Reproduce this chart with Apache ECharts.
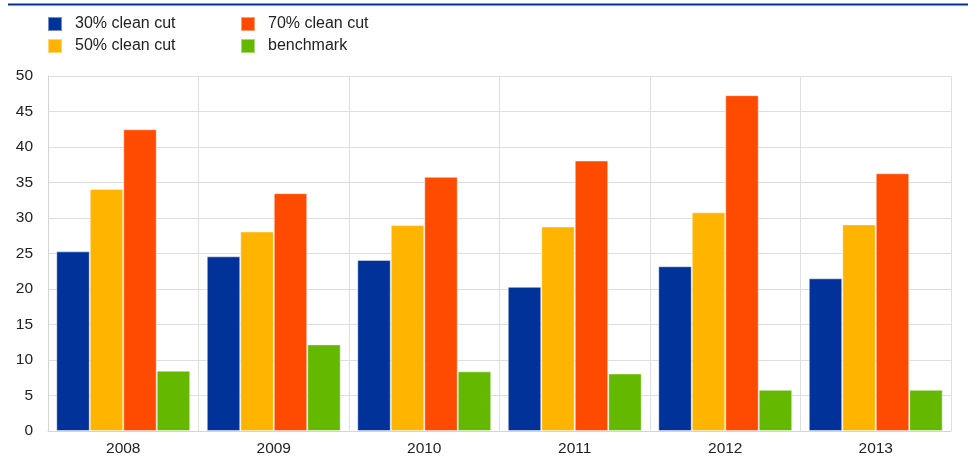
<!DOCTYPE html>
<html>
<head>
<meta charset="utf-8">
<script src="https://cdn.jsdelivr.net/npm/echarts@6/dist/echarts.min.js"></script>
<style>
  html, body { margin: 0; padding: 0; background: #fff; }
  #main { width: 968px; height: 474px; }
</style>
</head>
<body>
<div id="main"></div>
<script>
// chart data
var years = ['2008', '2009', '2010', '2011', '2012', '2013']
var cut30 = [25.3, 24.6, 24.1, 20.3, 23.2, 21.5]
var cut50 = [34.1, 28.1, 29.0, 28.8, 30.8, 29.1]
var cut70 = [42.5, 33.5, 35.8, 38.1, 47.3, 36.3]
var benchmark = [8.5, 12.2, 8.4, 8.1, 5.8, 5.8]

var chartDom = document.getElementById('main')
var myChart = echarts.init(chartDom)
var option

function bar (name, data, color) {
  return {
    name: name,
    type: 'bar',
    data: data,
    barGap: '0%',
    barCategoryGap: '11%',
    itemStyle: { color: color, borderColor: 'rgba(255,255,255,0.45)', borderWidth: 1 }
  }
}

var legendText = {
  fontFamily: 'Liberation Sans, Arial, sans-serif',
  fontSize: 16,
  color: '#222',
  padding: [0, 0, 0, 8]
}

option = {
  animation: false,
  textStyle: { fontFamily: 'Liberation Sans, Arial, sans-serif' },
  graphic: [{
    type: 'line',
    shape: { x1: 8, y1: 4.5, x2: 968, y2: 4.5 },
    style: { stroke: '#003299', lineWidth: 2 }
  }],
  legend: [
    {
      left: 47, top: 16, orient: 'vertical', itemWidth: 14, itemHeight: 14, itemGap: 6,
      icon: 'rect', textStyle: legendText, padding: 0,
      data: ['30% clean cut', '50% clean cut']
    },
    {
      left: 240, top: 16, orient: 'vertical', itemWidth: 14, itemHeight: 14, itemGap: 6,
      icon: 'rect', textStyle: legendText, padding: 0,
      data: ['70% clean cut', 'benchmark']
    }
  ],
  grid: { left: 48, right: 17, top: 76, bottom: 43 },
  xAxis: {
    type: 'category',
    data: years,
    axisLine: { lineStyle: { color: '#d4d4d4' } },
    axisTick: { show: false },
    axisLabel: { fontSize: 15.5, color: '#222', margin: 10 },
    splitLine: { show: true, lineStyle: { color: '#dedede' } }
  },
  yAxis: {
    type: 'value',
    min: 0,
    max: 50,
    interval: 5,
    axisLine: { show: true, lineStyle: { color: '#d4d4d4' } },
    axisTick: { show: false },
    axisLabel: { fontSize: 15.5, color: '#222', margin: 15 },
    splitLine: { lineStyle: { color: '#dedede' } }
  },
  series: [
    bar('30% clean cut', cut30, '#003299'),
    bar('50% clean cut', cut50, '#FFB400'),
    bar('70% clean cut', cut70, '#FF4B00'),
    bar('benchmark', benchmark, '#65B800')
  ]
}

option && myChart.setOption(option)
</script>
</body>
</html>
